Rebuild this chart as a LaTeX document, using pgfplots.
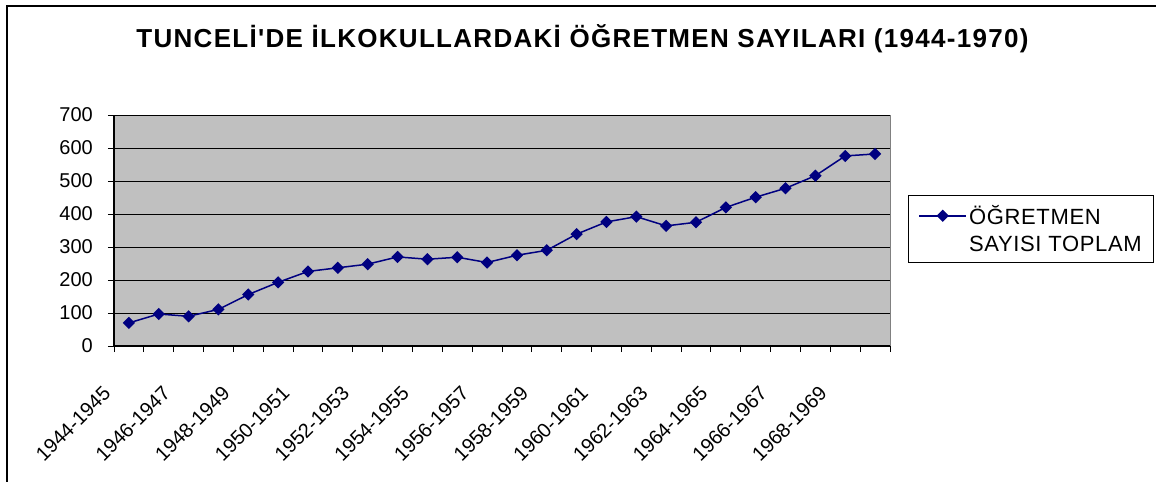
\documentclass[border=0pt]{standalone}
\usepackage{fontspec}
\setmainfont{Liberation Sans}[Ligatures=TeXOff]
\usepackage{pgfplots}
\pgfplotsset{compat=1.18}
\definecolor{navy}{RGB}{0,0,128}
\definecolor{plotgray}{RGB}{192,192,192}
\definecolor{bordergray}{RGB}{128,128,128}
\begin{document}
\begin{tikzpicture}
\useasboundingbox (0,0) rectangle (1156bp,-482bp);
\draw[line width=1.5bp] (7bp,-495bp) -- (7bp,-6bp) -- (1170bp,-6bp);
\node[anchor=base, inner sep=0pt, font=\fontsize{26bp}{30bp}\selectfont\bfseries\addfontfeatures{LetterSpace=5}] at (582.5bp,-47bp) {TUNCELİ'DE İLKOKULLARDAKİ ÖĞRETMEN SAYILARI (1944-1970)};
\begin{axis}[
  at={(114bp,-346bp)}, anchor=south west,
  scale only axis, width=776bp, height=231bp,
  xmin=-0.5, xmax=25.5, ymin=0, ymax=700,
  axis x line*=bottom, axis y line*=left,
  axis line style={black, line width=1.3bp},
  axis background/.style={fill=plotgray, draw=bordergray, line width=1bp},
  xtick={-0.5,0.5,...,25.5},
  xticklabels={1944-1945,,1946-1947,,1948-1949,,1950-1951,,1952-1953,,1954-1955,,1956-1957,,1958-1959,,1960-1961,,1962-1963,,1964-1965,,1966-1967,,1968-1969,,},
  ytick={0,100,...,700},
  tick align=outside, major tick length=6bp,
  tick style={black, line width=1bp},
  ymajorgrids, grid style={black, line width=0.9bp},
  /pgf/number format/assume math mode=true,
  ticklabel style={font=\fontsize{20bp}{24bp}\selectfont},
  yticklabel style={inner sep=0pt, xshift=-15bp},
  xticklabel style={inner sep=0pt, xshift=-7bp, yshift=-38bp, rotate=45, anchor=east},
  legend style={at={(1.0232,0.6537)}, anchor=north west, draw=black, line width=1bp, fill=white,
    font=\fontsize{22bp}{26bp}\selectfont\addfontfeatures{LetterSpace=3}, row sep=6bp,
    inner xsep=10bp, inner ysep=8bp},
  legend cell align=left,
  legend image code/.code={\draw[mark repeat=2,mark phase=2,#1] plot coordinates {(0bp,0bp) (23.5bp,0bp) (47bp,0bp)};},
]
\addplot[navy, line width=1.5bp, mark=square*, mark size=3.6bp, mark options={rotate=45, solid}] coordinates {
(0,70) (1,97) (2,90) (3,111) (4,156) (5,193) (6,226) (7,237) (8,248) (9,270)
(10,263) (11,269) (12,253) (13,275) (14,290) (15,339) (16,376) (17,392) (18,364) (19,375)
(20,420) (21,451) (22,478) (23,516) (24,576) (25,582)};
\addlegendentry{ÖĞRETMEN}
\addlegendimage{empty legend}
\addlegendentry{SAYISI TOPLAM}
\end{axis}
\end{tikzpicture}
\end{document}
